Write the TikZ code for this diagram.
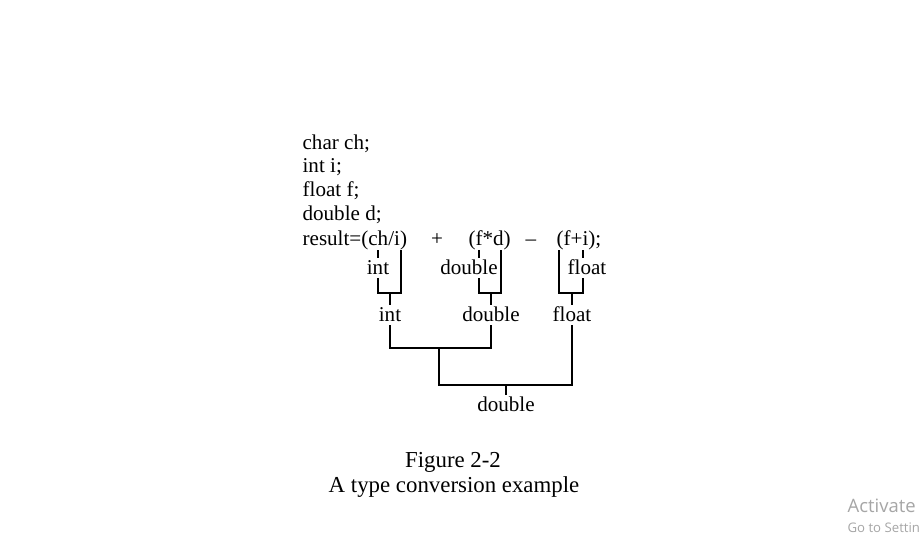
\documentclass[tikz,border=0pt]{standalone}
\usepackage{fontspec}
\setmainfont{Liberation Serif}
\newfontfamily\wmfont{Open Sans}
\begin{document}
\begin{tikzpicture}[x=0.02cm,y=-0.02cm,line width=0.7pt,
    code/.style={anchor=west,inner sep=0pt,text height=7.5pt,text depth=0pt,
      font=\fontsize{12}{14}\selectfont},
    lab/.style={inner xsep=0pt,inner ysep=1.8pt,text height=7.5pt,text depth=0pt,
      font=\fontsize{12}{14}\selectfont},
    figcap/.style={font=\fontsize{13}{15}\selectfont},
    wmark/.style={anchor=west,inner sep=0pt,text=black!35}]
    \useasboundingbox[fill=white] (0,0) rectangle (922,549);
    % declarations
    \node[code] (lch) at (302,143) {char ch;};
    \node[code] (li)  at (302,166) {int i;};
    \node[code] (lf)  at (302,190) {float f;};
    \node[code] (ld)  at (302,214) {double d;};
    \node[code] (res) at (302,239) {result=(ch/i)};
    \node[code,anchor=center] (plus) at (437,239) {+};
    \node[code] (fd)  at (468,239) {(f*d)};
    \node[code,anchor=center] (minus) at (531,239) {--};
    \node[code] (fi)  at (556,239) {(f+i);};
    %
    \coordinate (ch) at (378,250);
    \coordinate (i1) at (401,250);
    \coordinate (f1) at (479,250);
    \coordinate (d1) at (501,250);
    \coordinate (f2) at (559,250);
    \coordinate (i2) at (583,250);
    % first step
    \node[lab] (intA) at (378,268) {int};
    \node[lab] (dblA) at (469,268) {double};
    \node[lab] (fltA) at (587,268) {float};
    \node[lab] (intB) at (390,315) {int};
    \node[lab] (dblB) at (491,315) {double};
    \node[lab] (fltB) at (572,315) {float};
    \node[lab] (dblC) at (506,405) {double};
    \coordinate (jA) at (390,293);
    \coordinate (jB) at (491,293);
    \coordinate (jC) at (572,293);
    \coordinate (jD) at (439,348);
    \coordinate (jE) at (506,385);
    %
    \draw (ch) -- (intA.north);
    \draw (intA.south) |- (jA) -| (i1);
    \draw (jA) -- (intB.north);
    \draw (f1) -- (f1 |- dblA.north);
    \draw (f1 |- dblA.south) |- (jB) -| (d1);
    \draw (jB) -- (dblB.north);
    \draw (i2) -- (i2 |- fltA.north);
    \draw (f2) |- (jC) -| (i2 |- fltA.south);
    \draw (jC) -- (fltB.north);
    % second step
    \draw (intB.south) |- (jD) -| (dblB.south);
    \draw (jD) |- (jE) -| (fltB.south);
    \draw (jE) -- (dblC.north);
    % caption
    \node[figcap] (fig) at (453,462) {Figure 2-2};
    \node[figcap] (title) at (454,487) {A type conversion example};
    % watermark
    \node[wmark,font=\wmfont\fontsize{10.5}{12}\selectfont] (act) at (847,506) {Activate};
    \node[wmark,font=\wmfont\fontsize{7.5}{9}\selectfont] (sett) at (847,528) {Go to Settin};
\end{tikzpicture}
\end{document}
